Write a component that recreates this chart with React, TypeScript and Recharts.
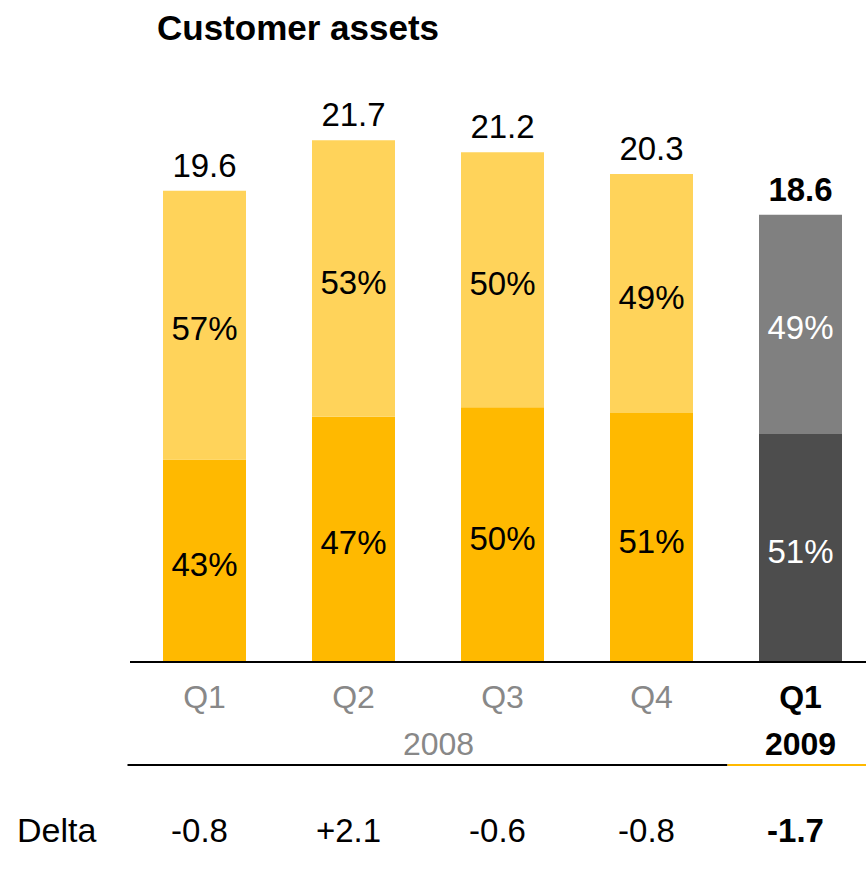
import React from "react";
import { BarChart, Bar, XAxis, YAxis, Cell, LabelList } from "recharts";

const quarters = ["Q1", "Q2", "Q3", "Q4", "Q1 "];
const years = ["2008", "2008", "2008", "2008", "2009"];
const totals = [19.6, 21.7, 21.2, 20.3, 18.6];
const lowerPct = [43, 47, 50, 51, 51];
const upperPct = [57, 53, 50, 49, 49];
const deltas = ["-0.8", "+2.1", "-0.6", "-0.8", "-1.7"];

const FONT = '"Liberation Sans", Arial, Helvetica, sans-serif';
const LOWER_COLORS = ["#FFB900", "#FFB900", "#FFB900", "#FFB900", "#4D4D4D"];
const UPPER_COLORS = ["#FFD35A", "#FFD35A", "#FFD35A", "#FFD35A", "#808080"];

const data = quarters.map((q, i) => {
  const low = (totals[i] * lowerPct[i]) / 100;
  return {
    quarter: q,
    year: years[i],
    total: totals[i],
    low,
    high: totals[i] - low,
    lowPct: lowerPct[i],
    highPct: upperPct[i],
    delta: deltas[i],
  };
});

const last = data.length - 1;

function PctLabel(props: any) {
  const { x, y, width, height, value, index } = props;
  return (
    <text
      x={x + width / 2}
      y={y + height / 2 + 15}
      textAnchor="middle"
      fontFamily={FONT}
      fontSize={33}
      fill={index === last ? "#ffffff" : "#000000"}
    >
      {value}%
    </text>
  );
}

function TotalLabel(props: any) {
  const { x, y, width, value, index } = props;
  return (
    <text
      x={x + width / 2}
      y={y - 14}
      textAnchor="middle"
      fontFamily={FONT}
      fontSize={33}
      fontWeight={index === last ? "bold" : "normal"}
      fill="#000000"
    >
      {Number(value).toFixed(1)}
    </text>
  );
}

function Tick(props: any) {
  const { x, y, index } = props;
  const d = data[index];
  const isLast = index === last;
  return (
    <g fontFamily={FONT}>
      <text
        x={x}
        y={y + 46}
        textAnchor="middle"
        fontSize={32}
        fontWeight={isLast ? "bold" : "normal"}
        fill={isLast ? "#000000" : "#888888"}
      >
        {d.quarter.trim()}
      </text>
      {index === 1 && (
        <text x={x + 85} y={y + 93} textAnchor="middle" fontSize={32} fill="#888888">
          {d.year}
        </text>
      )}
      {isLast && (
        <text x={x} y={y + 93} textAnchor="middle" fontSize={32} fontWeight="bold" fill="#000000">
          {d.year}
        </text>
      )}
      {index === 0 && (
        <>
          <line x1={x - 77} x2={x + 523} y1={y + 103} y2={y + 103} stroke="#000000" strokeWidth={2} />
          <text x={17} y={y + 180} fontSize={34} fill="#000000">
            Delta
          </text>
        </>
      )}
      {isLast && (
        <line x1={x - 73} x2={x + 70} y1={y + 103} y2={y + 103} stroke="#FFB900" strokeWidth={2} />
      )}
      <text
        x={x - 5}
        y={y + 180}
        textAnchor="middle"
        fontSize={33}
        fontWeight={isLast ? "bold" : "normal"}
        fill="#000000"
      >
        {d.delta}
      </text>
    </g>
  );
}

export default function App(): JSX.Element {
  return (
    <div
      style={{
        position: "absolute",
        left: 0,
        top: 0,
        width: 866,
        height: 872,
        overflow: "hidden",
        background: "#ffffff",
      }}
    >
      <div
        style={{
          position: "absolute",
          left: 157,
          top: 8,
          fontFamily: FONT,
          fontWeight: "bold",
          fontSize: 35,
          lineHeight: "40px",
          color: "#000000",
        }}
      >
        Customer assets
      </div>
      <BarChart
        width={875}
        height={872}
        data={data}
        margin={{ top: 61, right: 0, left: 130, bottom: 0 }}
        barSize={83}
      >
        <YAxis hide domain={[0, 25]} />
        <XAxis
          dataKey="quarter"
          height={210}
          interval={0}
          tickLine={false}
          tickSize={0}
          tickMargin={0}
          axisLine={{ stroke: "#000000", strokeWidth: 2 }}
          tick={<Tick />}
        />
        <Bar dataKey="low" stackId="a" isAnimationActive={false}>
          {data.map((_, i) => (
            <Cell key={i} fill={LOWER_COLORS[i]} />
          ))}
          <LabelList dataKey="lowPct" content={<PctLabel />} />
        </Bar>
        <Bar dataKey="high" stackId="a" isAnimationActive={false}>
          {data.map((_, i) => (
            <Cell key={i} fill={UPPER_COLORS[i]} />
          ))}
          <LabelList dataKey="highPct" content={<PctLabel />} />
          <LabelList dataKey="total" content={<TotalLabel />} />
        </Bar>
      </BarChart>
    </div>
  );
}
